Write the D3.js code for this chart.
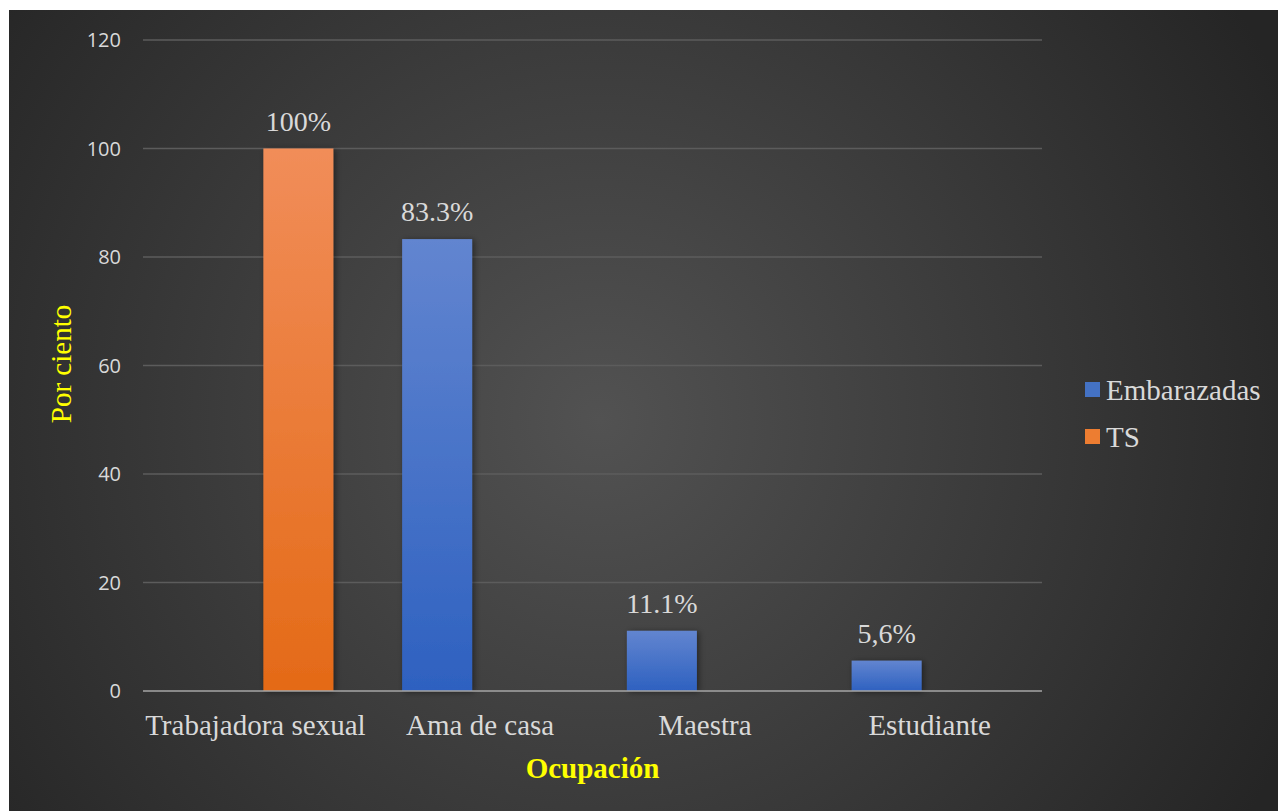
<!DOCTYPE html>
<html><head><meta charset="utf-8">
<script src="https://cdn.jsdelivr.net/npm/d3@7"></script>
<style>html,body{margin:0;padding:0;background:#fff;}svg{display:block;}</style>
</head><body><svg id="c" width="1278" height="811"></svg>
<script>
const categories = ["Trabajadora sexual", "Ama de casa", "Maestra", "Estudiante"];
const seriesNames = ["Embarazadas", "TS"];
const embarazadas = [0, 83.3, 11.1, 5.6];
const ts = [100, 0, 0, 0];
const embarazadasLabels = ["", "83.3%", "11.1%", "5,6%"];
const tsLabels = ["100%", "", "", ""];
const yTicks = [0, 20, 40, 60, 80, 100, 120];

const svg = d3.select("#c");
const defs = svg.append("defs");
const bg = defs.append("radialGradient").attr("id","bg").attr("gradientUnits","userSpaceOnUse")
  .attr("cx",600).attr("cy",420).attr("r",760);
bg.append("stop").attr("offset",0).attr("stop-color","#525252");
bg.append("stop").attr("offset",1).attr("stop-color","#252525");
const gB = defs.append("linearGradient").attr("id","gBlue").attr("x1",0).attr("y1",0).attr("x2",0).attr("y2",1);
gB.append("stop").attr("offset",0).attr("stop-color","#6285d0");
gB.append("stop").attr("offset",1).attr("stop-color","#2e61c0");
const gO = defs.append("linearGradient").attr("id","gOrange").attr("x1",0).attr("y1",0).attr("x2",0).attr("y2",1);
gO.append("stop").attr("offset",0).attr("stop-color","#f18d59");
gO.append("stop").attr("offset",1).attr("stop-color","#e46a17");
const sh = defs.append("filter").attr("id","sh").attr("x","-20%").attr("y","-20%").attr("width","150%").attr("height","150%");
sh.append("feDropShadow").attr("dx",2).attr("dy",1).attr("stdDeviation",3).attr("flood-color","#000").attr("flood-opacity",0.45);

svg.append("rect").attr("x",9).attr("y",10).attr("width",1269).attr("height",801).attr("fill","url(#bg)");

const x0 = d3.scaleBand().domain(categories).range([143,1042]).paddingInner(0).paddingOuter(0);
const x1 = d3.scaleBand().domain(seriesNames).range([0,x0.bandwidth()]).paddingInner(0.186).paddingOuter(0.4);
const y = d3.scaleLinear().domain([0,120]).range([691,40]);

// gridlines
svg.append("g").selectAll("line").data(yTicks.filter(d=>d>0)).join("line")
  .attr("x1",143).attr("x2",1042).attr("y1",d=>y(d)).attr("y2",d=>y(d))
  .attr("stroke","#5c5c5c").attr("stroke-width",1.3);

// y tick labels
svg.append("g").selectAll("text").data(yTicks).join("text")
  .attr("x",121).attr("y",d=>y(d)).attr("dy","0.36em").attr("text-anchor","end")
  .attr("font-family","'Open Sans', sans-serif").attr("font-size",20).attr("fill","#d9d9d9")
  .text(d=>d);

const series = [
  {name:"Embarazadas", values:embarazadas, labels:embarazadasLabels, fill:"url(#gBlue)", sw:"#4472c4"},
  {name:"TS", values:ts, labels:tsLabels, fill:"url(#gOrange)", sw:"#ed7d31"}
];
series.forEach(s=>{
  const data = categories.map((c,i)=>({c, v:s.values[i], l:s.labels[i]})).filter(d=>d.v>0);
  svg.append("g").selectAll("rect").data(data).join("rect")
    .attr("x",d=>x0(d.c)+x1(s.name)).attr("width",x1.bandwidth())
    .attr("y",d=>y(d.v)).attr("height",d=>y(0)-y(d.v))
    .attr("fill",s.fill).attr("filter","url(#sh)");
  svg.append("g").selectAll("text").data(data).join("text")
    .attr("x",d=>x0(d.c)+x1(s.name)+x1.bandwidth()/2).attr("y",d=>y(d.v)-18)
    .attr("text-anchor","middle").attr("font-family","'Liberation Serif', 'Times New Roman', serif")
    .attr("font-size",28).attr("fill","#d9d9d9").text(d=>d.l);
});

// axis line
svg.append("line").attr("x1",143).attr("x2",1042).attr("y1",y(0)).attr("y2",y(0))
  .attr("stroke","#a6a6a6").attr("stroke-width",1.5);

// category labels
svg.append("g").selectAll("text").data(categories).join("text")
  .attr("x",d=>x0(d)+x0.bandwidth()/2).attr("y",735).attr("text-anchor","middle")
  .attr("font-family","'Liberation Serif', 'Times New Roman', serif").attr("font-size",29).attr("fill","#d9d9d9")
  .text(d=>d);

// axis titles
svg.append("text").attr("x",592.5).attr("y",778).attr("text-anchor","middle")
  .attr("font-family","'Liberation Serif', 'Times New Roman', serif").attr("font-size",29).attr("font-weight","bold")
  .attr("fill","#ffff00").text("Ocupación");
svg.append("text").attr("transform","translate(71,364) rotate(-90)").attr("text-anchor","middle")
  .attr("font-family","'Liberation Serif', 'Times New Roman', serif").attr("font-size",29)
  .attr("fill","#ffff00").text("Por ciento");

// legend
const leg = svg.append("g").selectAll("g").data(series).join("g")
  .attr("transform",(d,i)=>`translate(1085,${390+i*47})`);
leg.append("rect").attr("x",0).attr("y",-8).attr("width",15).attr("height",15).attr("fill",d=>d.sw);
leg.append("text").attr("x",21).attr("y",0).attr("dy","0.35em")
  .attr("font-family","'Liberation Serif', 'Times New Roman', serif").attr("font-size",29).attr("fill","#d9d9d9")
  .text(d=>d.name);
</script></body></html>
